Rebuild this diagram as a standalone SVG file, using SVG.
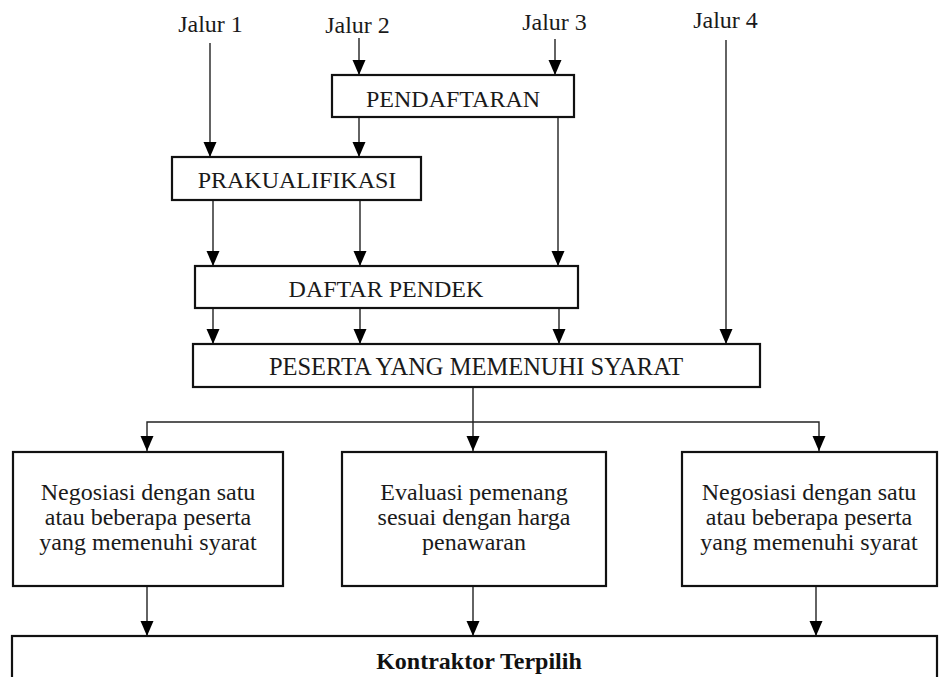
<svg xmlns="http://www.w3.org/2000/svg" width="940" height="677" viewBox="0 0 940 677">
<style>
.box{fill:#fff;stroke:#111;stroke-width:2.2}
.t{font-family:"Liberation Serif","Times New Roman",serif;font-size:24px;fill:#1a1a1a;text-anchor:middle}
.b{font-weight:bold;fill:#111}
.c{fill:none;stroke:#222;stroke-width:1.4}
.a{marker-end:url(#arr)}
</style>
<defs>
<marker id="arr" markerUnits="userSpaceOnUse" markerWidth="16" markerHeight="14" viewBox="0 0 16 14" refX="15" refY="7" orient="auto">
<path d="M0,0.5 L15,7 L0,13.5 z" fill="#000"/>
</marker>
</defs>
<rect width="940" height="677" fill="#fff"/>
<g id="labels">
<text class="t" x="210.5" y="32">Jalur 1</text>
<text class="t" x="357.5" y="33">Jalur 2</text>
<text class="t" x="554.5" y="30">Jalur 3</text>
<text class="t" x="725.5" y="28">Jalur 4</text>
</g>
<g id="connectors">
<line class="c a" x1="210" y1="43" x2="210" y2="157"/>
<line class="c a" x1="359" y1="38" x2="359" y2="75"/>
<line class="c a" x1="555" y1="39" x2="555" y2="75"/>
<line class="c a" x1="726" y1="40" x2="726" y2="344"/>
<line class="c a" x1="359" y1="117" x2="359" y2="157"/>
<line class="c a" x1="558" y1="117" x2="558" y2="266"/>
<line class="c a" x1="213" y1="200" x2="213" y2="266"/>
<line class="c a" x1="360" y1="200" x2="360" y2="266"/>
<line class="c a" x1="213" y1="308" x2="213" y2="344"/>
<line class="c a" x1="360" y1="308" x2="360" y2="344"/>
<line class="c a" x1="559" y1="308" x2="559" y2="344"/>
<line class="c a" x1="473" y1="387" x2="473" y2="451"/>
<polyline class="c a" points="473,422 147,422 147,451"/>
<polyline class="c a" points="473,422 819,422 819,451"/>
<line class="c a" x1="147" y1="586" x2="147" y2="636"/>
<line class="c a" x1="473" y1="586" x2="473" y2="636"/>
<line class="c a" x1="816" y1="586" x2="816" y2="636"/>
</g>
<g id="pendaftaran">
<rect class="box" x="332" y="75" width="242" height="42"/>
<text class="t" x="453" y="107">PENDAFTARAN</text>
</g>
<g id="prakualifikasi">
<rect class="box" x="172" y="157" width="249" height="43"/>
<text class="t" x="297" y="188">PRAKUALIFIKASI</text>
</g>
<g id="daftar-pendek">
<rect class="box" x="195" y="266" width="383" height="42"/>
<text class="t" x="386" y="297">DAFTAR PENDEK</text>
</g>
<g id="peserta">
<rect class="box" x="193" y="344" width="567" height="43"/>
<text class="t" x="476" y="375" style="font-size:24.5px">PESERTA YANG MEMENUHI SYARAT</text>
</g>
<g id="negosiasi-1">
<rect class="box" x="13" y="452" width="270" height="134"/>
<text class="t" x="148" y="500">Negosiasi dengan satu</text>
<text class="t" x="148" y="525">atau beberapa peserta</text>
<text class="t" x="148" y="550">yang memenuhi syarat</text>
</g>
<g id="evaluasi">
<rect class="box" x="342" y="452" width="264" height="134"/>
<text class="t" x="474" y="500">Evaluasi pemenang</text>
<text class="t" x="474" y="525">sesuai dengan harga</text>
<text class="t" x="474" y="550">penawaran</text>
</g>
<g id="negosiasi-2">
<rect class="box" x="682" y="452" width="255" height="134"/>
<text class="t" x="809" y="500">Negosiasi dengan satu</text>
<text class="t" x="809" y="525">atau beberapa peserta</text>
<text class="t" x="809" y="550">yang memenuhi syarat</text>
</g>
<g id="kontraktor">
<rect class="box" x="12" y="636" width="925" height="60"/>
<text class="t b" x="479" y="669">Kontraktor Terpilih</text>
</g>
</svg>
